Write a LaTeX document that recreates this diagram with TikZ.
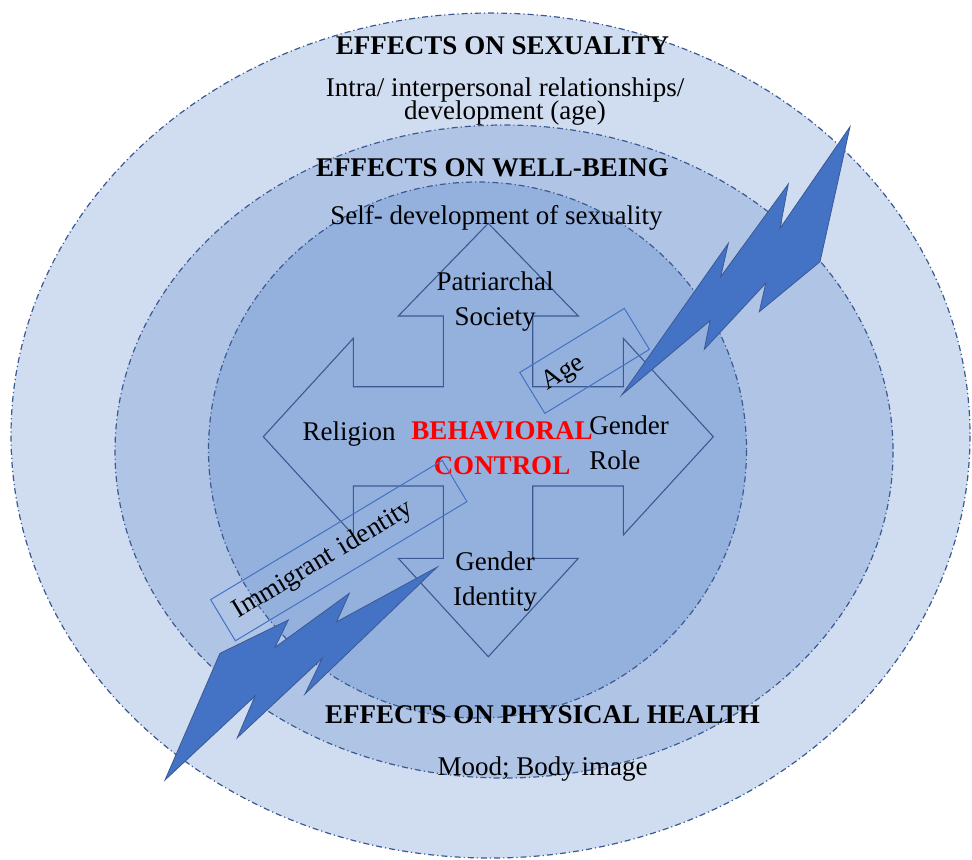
\documentclass[tikz,border=0pt]{standalone}
\usepackage{fontspec}
\setmainfont{Liberation Serif}

\definecolor{ringout}{HTML}{D0DDF0}
\definecolor{ringmid}{HTML}{B0C4E6}
\definecolor{ringin}{HTML}{94B0DD}
\definecolor{rim}{HTML}{3A5A94}
\definecolor{boltblue}{HTML}{4472C4}

\begin{document}
\begin{tikzpicture}[x = 0.5pt, y = -0.5pt,
	every node/.style = {inner sep = 0pt, font = \fontsize{13.5}{17.5}\selectfont},
	ring/.style = {draw = rim, line width = 0.6pt, dash pattern = on 3pt off 1.5pt on 0.6pt off 1.5pt},
	effect/.style = {anchor = base, font = \fontsize{13.5}{17.5}\selectfont\bfseries},
	tight/.style = {align = center, font = {\fontsize{13.5}{11.3}\selectfont\lineskiplimit=-5pt}},
	factor/.style = {align = center},
	tagbox/.style = {draw = boltblue, line width = 0.5pt, inner xsep = 7pt, align = left, minimum height = 24pt},
	bolt/.style = {fill = boltblue, draw = rim, line width = 0.4pt, line join = miter}]

	\useasboundingbox (0, 0) rectangle (972, 859);

	% Rings

	\filldraw[ring, fill = ringout] (490.5, 435.5) ellipse [x radius = 479.5, y radius = 422.5];
	\filldraw[ring, fill = ringmid] (504, 451.5) ellipse [x radius = 389, y radius = 326.5];
	\filldraw[ring, fill = ringin] (477.5, 450) ellipse [x radius = 269, y radius = 268];

	% Four way arrow

	\draw[rim, line width = 0.55pt, line join = miter]
		(488.3, 223.3) -- (578.3, 316) -- (532.7, 316) -- (532.7, 386.7) -- (623.3, 386.7) -- (623.3, 338.3)
		-- (713.3, 436.7) -- (623.3, 535) -- (623.3, 486) -- (532.7, 486) -- (532.7, 558.3) -- (578.3, 558.3)
		-- (488.3, 656.7) -- (398.3, 558.3) -- (443.3, 558.3) -- (443.3, 486) -- (353.3, 486) -- (353.3, 535)
		-- (263.3, 436.7) -- (353.3, 338.3) -- (353.3, 386.7) -- (443.3, 386.7) -- (443.3, 316) -- (398.3, 316) -- cycle;

	% Ring titles

	\node[effect] (sex) at (502.5, 54) {EFFECTS ON SEXUALITY};
	\node[tight] (sexnote) at (505, 101.7) {Intra/ interpersonal relationships/\\ development (age)};

	\node[effect] (well) at (492.5, 176.5) {EFFECTS ON WELL-BEING};
	\node[anchor = base] (wellnote) at (496.5, 224) {Self- development of sexuality};

	\node[effect] (phys) at (542.5, 723) {EFFECTS ON PHYSICAL HEALTH};
	\node[anchor = base] (physnote) at (542.5, 775) {Mood; Body image};

	% Factors in the arrow

	\node[factor] (patr) at (495, 301.3) {Patriarchal\\ Society};
	\node[anchor = base] (rel) at (349, 440) {Religion};
	\node[factor, text = red, font = \fontsize{13.5}{17.5}\selectfont\bfseries] (core) at (502, 447.7) {BEHAVIORAL\\ CONTROL};
	\node[factor, align = left, anchor = west] (role) at (589, 442.5) {Gender\\ Role};
	\node[factor] (ident) at (495, 581.8) {Gender\\ Identity};

	% Tilted boxes

	\node[tagbox, rotate = 31.5, text width = 47.3pt] (age) at (584.6, 360.9) {Age};
	\node[tagbox, rotate = 31, text width = 121.1pt] (immig) at (338.8, 550.6) {Immigrant identity};

	% Lightning

	\filldraw[bolt] (850, 126.7) -- (820, 261.7) -- (759.3, 311.7) -- (765.7, 283.3) -- (704.3, 349.3) -- (710, 320.7)
		-- (621.7, 395) -- (728.3, 243.3) -- (720.7, 276.7) -- (788.3, 184) -- (780, 228.3) -- cycle;
	\filldraw[bolt] (437.3, 567) -- (336.7, 621.7) -- (349.3, 593.3) -- (275, 647.3) -- (288.3, 620) -- (220, 653.3)
		-- (165, 780) -- (255, 696) -- (237.3, 737.7) -- (322.3, 658.3) -- (305, 694) -- cycle;

\end{tikzpicture}
\end{document}
